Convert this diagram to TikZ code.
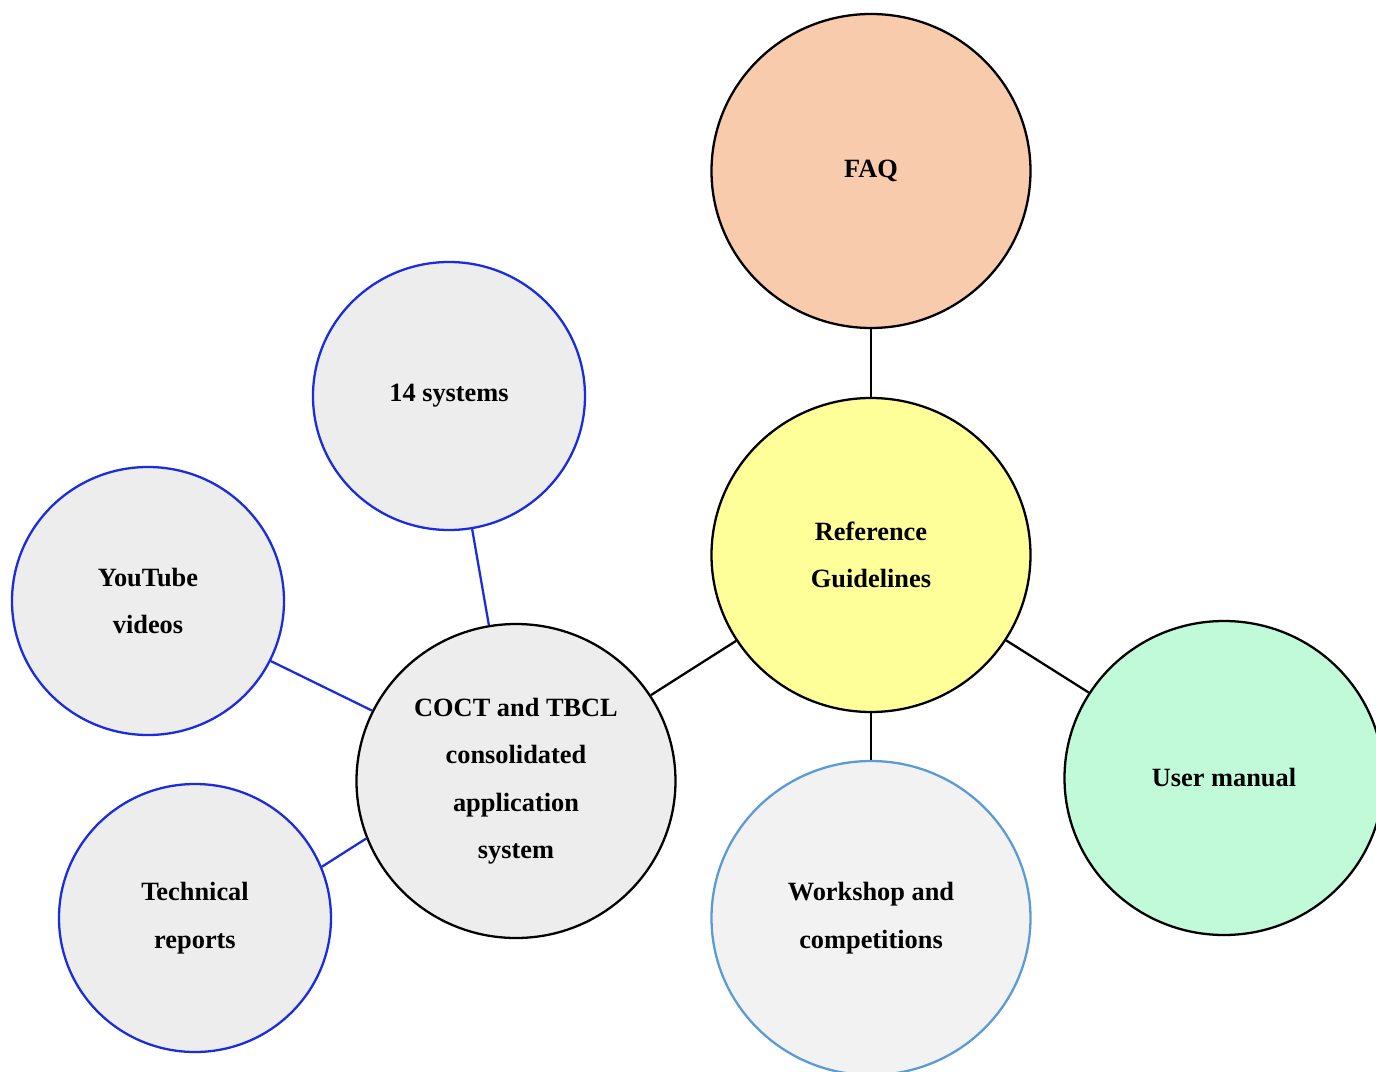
\documentclass[tikz,border=0pt]{standalone}
\usepackage{fontspec}
\setmainfont{Liberation Serif}
\usetikzlibrary{shapes.geometric}

\definecolor{faqpeach}{HTML}{F8CBAD}
\definecolor{refyellow}{HTML}{FFFF99}
\definecolor{usergreen}{HTML}{C1FAD9}
\definecolor{lightgrey}{HTML}{EDEDED}
\definecolor{paleblue}{HTML}{5B9BD5}
\definecolor{ringblue}{HTML}{1A2BE0}

\begin{document}
\begin{tikzpicture}[node distance=7cm]
\tikzstyle{bigc} = [ellipse, draw, line width=1.3pt, minimum width=6.38cm, minimum height=6.28cm, align=center, font=\fontsize{15}{27}\selectfont\bfseries]
\tikzstyle{smallc} = [ellipse, draw=ringblue, fill=lightgrey, line width=1.3pt, minimum width=5.44cm, minimum height=5.36cm, align=center, font=\fontsize{15}{27}\selectfont\bfseries]
\tikzstyle{link} = [line width=1.3pt]

\useasboundingbox (-17.42,-10.32) rectangle (10.10,11.10);
\clip (-17.42,-10.32) rectangle (10.10,11.10);

\node (ref) [bigc, fill=refyellow] at (0,0) {Reference\\Guidelines};
\node (faq) [bigc, fill=faqpeach, above of=ref, yshift=0.68cm] {FAQ};
\node (user) [bigc, fill=usergreen, right of=ref, xshift=0.06cm, yshift=-4.46cm] {User manual};
\node (work) [bigc, draw=paleblue, fill=black!5, below of=ref, yshift=-0.26cm] {Workshop and\\competitions};
\node (coct) [bigc, fill=lightgrey, left of=ref, xshift=-0.10cm, yshift=-4.52cm] {COCT and TBCL\\consolidated\\application\\system};

\node (sys) [smallc, above of=coct, xshift=-1.34cm, yshift=0.70cm] {14 systems};
\node (yt) [smallc, left of=coct, xshift=-0.36cm, yshift=3.60cm] {YouTube\\videos};
\node (tech) [smallc, left of=coct, xshift=0.58cm, yshift=-2.74cm] {Technical\\reports};

\draw [link] (faq) -- (ref);
\draw [link] (ref) -- (coct);
\draw [link] (ref) -- (user);
\draw [line width=0.7pt] (ref) -- (work);
\draw [link, ringblue] (coct) -- (sys);
\draw [link, ringblue] (coct) -- (yt);
\draw [link, ringblue] (coct.201) -- (tech.22);
\end{tikzpicture}
\end{document}
